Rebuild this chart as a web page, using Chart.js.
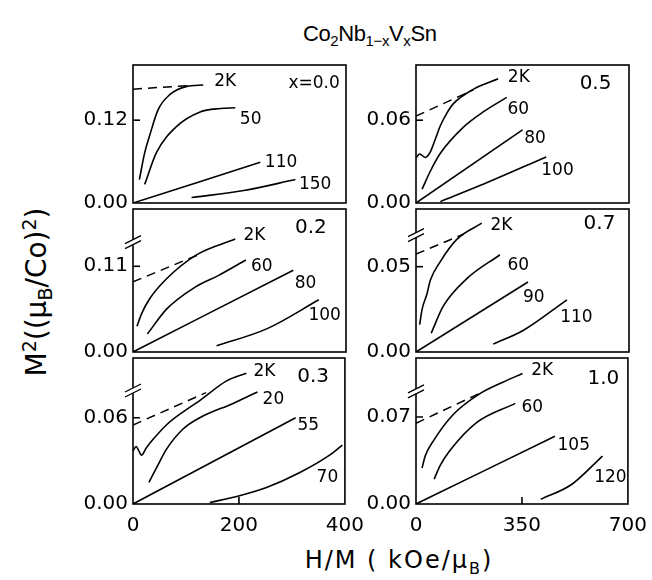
<!DOCTYPE html>
<html>
<head>
<meta charset="utf-8">
<script src="https://cdn.jsdelivr.net/npm/chart.js@4.4.1/dist/chart.umd.min.js"></script>
<style>
body { margin: 0; background: #fff; width: 652px; height: 580px; position: relative; overflow: hidden; font-family: "DejaVu Sans", sans-serif; color: #000; }
canvas { position: absolute; }
#title { position: absolute; left: 303px; top: 21px; font-family: "Liberation Sans", sans-serif; font-size: 22px; letter-spacing: -0.4px; white-space: nowrap; }
#title sub { font-size: 15px; }
#ytitle { position: absolute; left: 37px; top: 292px; transform: translate(-50%, -50%) rotate(-90deg); font-size: 28px; white-space: nowrap; }
#ytitle sup, #ytitle sub { font-size: 19px; }
#xtitle { position: absolute; left: 399px; top: 562px; transform: translate(-50%, -50%); font-size: 24px; letter-spacing: 2px; white-space: nowrap; }
#xtitle sub { font-size: 16px; }
</style>
</head>
<body>
<div id="title">Co<sub>2</sub>Nb<sub>1−x</sub>V<sub>x</sub>Sn</div>
<div id="ytitle">M<sup>2</sup>((μ<sub>B</sub>/Co)<sup>2</sup>)</div>
<div id="xtitle">H/M ( kOe/μ<sub>B</sub>)</div>
<script>
// panel order: x=0.0, 0.5, 0.2, 0.7, 0.3, 1.0 (left/right, top to bottom)
const panelNames = ["x=0.0", "0.5", "0.2", "0.7", "0.3", "1.0"];
const panelNamePos = [[340, 0.173], [590, 0.0864], [334, 0.159], [603, 0.0749], [340, 0.0886], [619, 0.101]];
const yMax = [0.2, 0.1, 0.1835, 0.0838, 0.1016, 0.1175];
const yTicks = [[0, 0.12], [0, 0.06], [0, 0.11], [0, 0.05], [0, 0.06], [0, 0.07]];
const breakAt = [null, null, 0.141, 0.0685, 0.079, 0.0907];
const xTicksLeft = [0, 200, 400];
const xTicksRight = [0, 350, 700];

// x = 0.0
const a2K = [[12, 0.034], [22, 0.073], [31, 0.097], [47, 0.135], [69, 0.157], [101, 0.169], [132, 0.171]];
const a2Kdash = [[0, 0.165], [101, 0.170]];
const a50 = [[22, 0.027], [44, 0.073], [82, 0.111], [126, 0.132], [164, 0.137], [192, 0.138]];
const a110 = [[0, 0], [239, 0.059]];
const a150 = [[110, 0.008], [208, 0.018], [305, 0.034]];
const aLabels = ["2K", "50", "110", "150"];
const aLabelPos = [[173, 0.176], [221, 0.121], [278, 0.058], [342, 0.0266]];

// x = 0.5
const b2K = [[1, 0.033], [12, 0.0355], [31, 0.033], [47, 0.037], [63, 0.046], [80, 0.056], [101, 0.065], [123, 0.072], [189, 0.0825], [270, 0.090]];
const b2Kdash = [[0, 0.063], [189, 0.082]];
const b60 = [[20, 0.010], [47, 0.023], [80, 0.036], [156, 0.055], [221, 0.066], [298, 0.0765]];
const b80 = [[0, 0], [350, 0.053]];
const b100 = [[80, 0.001], [210, 0.0126], [428, 0.0334]];
const bLabels = ["2K", "60", "80", "100"];
const bLabelPos = [[338, 0.0908], [336, 0.0678], [391, 0.0465], [465, 0.0237]];

// x = 0.2
const c2K = [[7.5, 0.033], [16, 0.049], [31, 0.068], [63, 0.094], [120, 0.125], [192, 0.145]];
const c2Kdash = [[0, 0.090], [120, 0.124]];
const c60 = [[27, 0.023], [63, 0.055], [116, 0.083], [160, 0.098], [212, 0.118]];
const c80 = [[0, 0], [301, 0.105]];
const c100 = [[157, 0.008], [252, 0.030], [349, 0.067]];
const cLabels = ["2K", "60", "80", "100"];
const cLabelPos = [[228, 0.1497], [242, 0.110], [324, 0.0873], [360, 0.047]];

// x = 0.7
const d2K = [[12, 0.016], [20, 0.025], [36, 0.034], [47, 0.042], [80, 0.053], [134, 0.066], [216, 0.0755]];
const d2Kdash = [[0, 0.0574], [156, 0.069]];
const d60 = [[50, 0.011], [90, 0.027], [167, 0.043], [276, 0.057]];
const d90 = [[0, 0], [368, 0.041]];
const d110 = [[254, 0.0047], [352, 0.0126], [496, 0.0306]];
const dLabels = ["2K", "60", "90", "110"];
const dLabelPos = [[281, 0.074], [336, 0.0504], [387, 0.0317], [527, 0.0204]];

// x = 0.3
const e2K = [[0, 0.037], [6, 0.040], [11, 0.037], [16, 0.034], [25, 0.039], [38, 0.045], [63, 0.055], [94, 0.064], [126, 0.072], [176, 0.0855], [214, 0.091]];
const e2Kdash = [[0, 0.055], [138, 0.0775]];
const e20 = [[30, 0.015], [47, 0.027], [63, 0.038], [94, 0.052], [126, 0.060], [189, 0.070], [235, 0.078]];
const e55 = [[0, 0], [307, 0.06]];
const e70 = [[145, 0.001], [201, 0.0057], [252, 0.0114], [314, 0.0217], [371, 0.034], [395, 0.041]];
const eLabels = ["2K", "20", "55", "70"];
const eLabelPos = [[248, 0.092], [265, 0.0725], [331, 0.0543], [367, 0.0187]];

// x = 1.0
const f2K = [[20, 0.029], [31, 0.039], [58, 0.051], [123, 0.072], [210, 0.0886], [287, 0.098], [352, 0.105]];
const f2Kdash = [[0, 0.065], [210, 0.089]];
const f60 = [[60, 0.020], [80, 0.031], [112, 0.043], [200, 0.0655], [328, 0.081]];
const f105 = [[0, 0], [459, 0.0545]];
const f120 = [[412, 0.0037], [515, 0.0159], [616, 0.0386]];
const fLabels = ["2K", "60", "105", "120"];
const fLabelPos = [[417, 0.107], [384, 0.0774], [521, 0.047], [642, 0.021]];

const colLeft = [133, 416], colRight = [346, 629];
const rowTop = [62, 206, 355], rowBottom = [206, 355, 504];
const FONT = "DejaVu Sans";

const panelPlugin = {
    id: "panel",
    afterDraw(chart, args, o) {
        const { ctx, chartArea: a, scales: { x, y } } = chart;
        ctx.save();
        ctx.strokeStyle = "#000";
        ctx.lineWidth = 1.6;
        ctx.strokeRect(a.left, a.top, a.right - a.left, a.bottom - a.top);

        ctx.beginPath();
        o.yTicks.forEach(v => {
            if (v === 0) return;
            const py = y.getPixelForValue(v);
            ctx.moveTo(a.left, py); ctx.lineTo(a.left + 7, py);
        });
        if (o.bottom) {
            const px = x.getPixelForValue(o.xTicks[1]);
            ctx.moveTo(px, a.bottom); ctx.lineTo(px, a.bottom - 7);
        }
        ctx.stroke();

        if (o.breakAt != null) {
            const py = y.getPixelForValue(o.breakAt);
            ctx.fillStyle = "#fff";
            ctx.fillRect(a.left - 2, py - 2.5, 4, 5);
            ctx.lineWidth = 1.3;
            ctx.beginPath();
            [-2.5, 2.5].forEach(d => {
                ctx.moveTo(a.left - 8, py + d + 4);
                ctx.lineTo(a.left + 8, py + d - 4);
            });
            ctx.stroke();
        }

        ctx.fillStyle = "#000";
        ctx.textAlign = "center";
        ctx.textBaseline = "middle";
        ctx.font = `17px "${FONT}"`;
        o.labels.forEach((t, k) => {
            ctx.fillText(t, x.getPixelForValue(o.labelPos[k][0]), y.getPixelForValue(o.labelPos[k][1]));
        });
        ctx.font = o.name.startsWith("x") ? `17px "${FONT}"` : `20px "${FONT}"`;
        ctx.fillText(o.name, x.getPixelForValue(o.namePos[0]), y.getPixelForValue(o.namePos[1]));
        ctx.restore();
    }
};

function toXY(pts) {
    return pts.map(p => ({ x: p[0], y: p[1] }));
}

function makePanel(i, solid, dashed, labels, labelPos) {
    const col = i % 2, row = Math.floor(i / 2);
    const L = colLeft[col], R = colRight[col], T = rowTop[row], B = rowBottom[row];
    const bottom = row === 2;
    const xh = bottom ? 40 : 14;
    const PL = 80, PT = 14, PR = 28;
    const w = R - L + PL + PR, h = B - T + PT + xh;
    const cv = document.createElement("canvas");
    cv.width = w; cv.height = h;
    cv.style.left = (L - PL) + "px"; cv.style.top = (T - PT) + "px";
    cv.style.width = w + "px"; cv.style.height = h + "px";
    document.body.appendChild(cv);

    const xTicks = col === 0 ? xTicksLeft : xTicksRight;
    const datasets = solid.map(s => ({
        data: toXY(s), borderColor: "#000", borderWidth: 1.6, pointRadius: 0,
        cubicInterpolationMode: "monotone", fill: false,
    }));
    datasets.push({
        data: toXY(dashed), borderColor: "#000", borderWidth: 1.5, pointRadius: 0,
        borderDash: [9, 6], fill: false,
    });

    new Chart(cv, {
        type: "line",
        data: { datasets },
        plugins: [panelPlugin],
        options: {
            responsive: false,
            animation: false,
            devicePixelRatio: 1,
            layout: { padding: { top: PT, right: PR, left: 0, bottom: 0 } },
            plugins: {
                legend: { display: false },
                tooltip: { enabled: false },
                panel: {
                    yTicks: yTicks[i], xTicks, bottom, breakAt: breakAt[i],
                    labels, labelPos, name: panelNames[i], namePos: panelNamePos[i],
                },
            },
            scales: {
                x: {
                    type: "linear", min: 0, max: xTicks[2],
                    afterBuildTicks: s => { s.ticks = xTicks.map(v => ({ value: v })); },
                    afterFit: s => { s.height = xh; },
                    grid: { display: false, drawTicks: false },
                    border: { display: false },
                    ticks: { display: bottom, color: "#000", padding: 10, maxRotation: 0,
                        font: { family: FONT, size: 20 }, callback: v => String(v) },
                },
                y: {
                    min: 0, max: yMax[i],
                    afterBuildTicks: s => { s.ticks = yTicks[i].map(v => ({ value: v })); },
                    afterFit: s => { s.width = PL; },
                    grid: { display: false, drawTicks: false },
                    border: { display: false },
                    ticks: { color: "#000", padding: 5, font: { family: FONT, size: 20 },
                        callback: v => v.toFixed(2) },
                },
            },
        },
    });
}

makePanel(0, [a2K, a50, a110, a150], a2Kdash, aLabels, aLabelPos);
makePanel(1, [b2K, b60, b80, b100], b2Kdash, bLabels, bLabelPos);
makePanel(2, [c2K, c60, c80, c100], c2Kdash, cLabels, cLabelPos);
makePanel(3, [d2K, d60, d90, d110], d2Kdash, dLabels, dLabelPos);
makePanel(4, [e2K, e20, e55, e70], e2Kdash, eLabels, eLabelPos);
makePanel(5, [f2K, f60, f105, f120], f2Kdash, fLabels, fLabelPos);
</script>
</body>
</html>
